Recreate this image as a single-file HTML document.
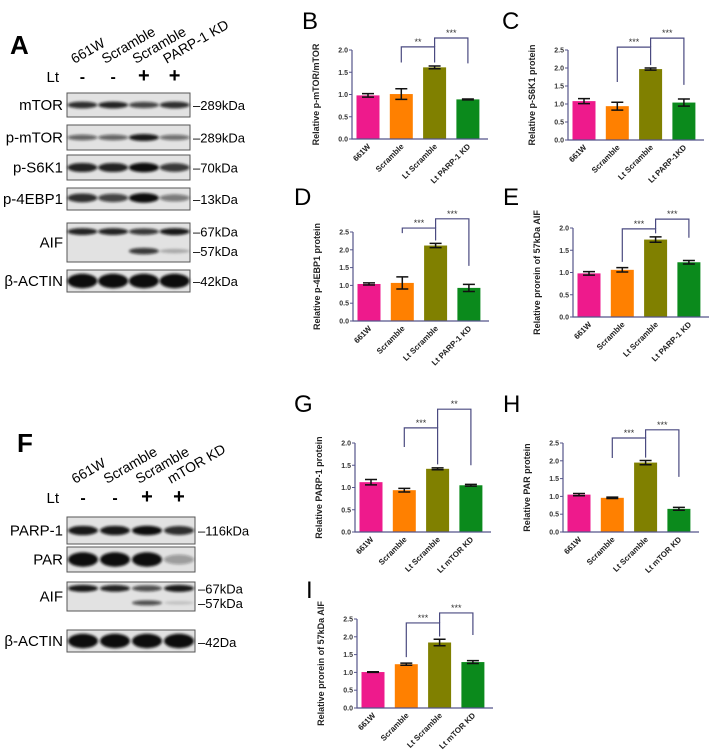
<!DOCTYPE html>
<html><head><meta charset="utf-8"><style>
html,body{margin:0;padding:0;background:#fff;}
svg{display:block;font-family:"Liberation Sans",Arial,sans-serif;}
</style></head><body>
<svg id="fig" width="709" height="755" viewBox="0 0 709 755" xmlns="http://www.w3.org/2000/svg">
<defs>
<filter id="blur" x="-20%" y="-50%" width="140%" height="200%"><feGaussianBlur stdDeviation="1.4"/></filter>
</defs>
<g id="blots"></g>
<g id="charts"></g>
</svg>
<script>
// ---------- chart data ----------
const catsA = ["661W","Scramble","Lt Scramble","Lt PARP-1 KD"];
const catsC = ["661W","Scramble","Lt Scramble","Lt PARP-1KD"];
const catsF = ["661W","Scramble","Lt Scramble","Lt mTOR KD"];
const valsB = [0.98,1.01,1.61,0.89];  const errB = [0.04,0.12,0.03,0.01];
const valsC = [1.08,0.94,1.97,1.04];  const errC = [0.07,0.11,0.03,0.10];
const valsD = [1.04,1.07,2.12,0.93];  const errD = [0.03,0.17,0.06,0.10];
const valsE = [0.98,1.06,1.74,1.23];  const errE = [0.04,0.05,0.06,0.04];
const valsG = [1.12,0.94,1.42,1.05];  const errG = [0.06,0.04,0.02,0.02];
const valsH = [1.05,0.96,1.95,0.65];  const errH = [0.03,0.02,0.06,0.04];
const valsI = [1.01,1.23,1.84,1.29];  const errI = [0.01,0.03,0.09,0.04];
const ticks20 = ["0.0","0.5","1.0","1.5","2.0"];
const ticks25 = ["0.0","0.5","1.0","1.5","2.0","2.5"];
const sigB = [2.07,1.72,2.27,1.70]; const starsB = ["**","***"];
const sigC = [2.58,1.61,2.83,1.53]; const starsC = ["***","***"];
const sigD = [2.61,2.47,2.87,1.55]; const starsD = ["***","***"];
const sigE = [1.98,1.24,2.20,1.78]; const starsE = ["***","***"];
const sigG = [2.34,1.91,2.76,1.50]; const starsG = ["***","**"];
const sigH = [2.64,2.08,2.87,1.55]; const starsH = ["***","***"];
const sigI = [2.39,1.43,2.67,2.05]; const starsI = ["***","***"];

const NS="http://www.w3.org/2000/svg";
const colors=["#ee1a8c","#ff8000","#808000","#0b8a1c"];
function mk(tag,attrs,parent,text){const e=document.createElementNS(NS,tag);for(const k in attrs)e.setAttribute(k,attrs[k]);if(text!==undefined)e.textContent=text;parent.appendChild(e);return e;}

function chart(id,letter,lx,ly,x0,yTop,yBot,cats,vals,errs,ticks,title,sig,stars){
  const root=document.getElementById('charts');
  const g=mk('g',{},root);
  
  
  const L=mk('text',{x:lx,y:ly,'font-size':24},g,letter);
  
  
  const maxV=parseFloat(ticks[ticks.length-1]);
  const y=v=>yBot-(v/maxV)*(yBot-yTop);
  const xc=i=>x0+16+i*33.3;
  vals.forEach((v,i)=>{
    const r=mk('rect',{x:xc(i)-11.5,y:y(v),width:23,height:yBot-y(v),fill:colors[i]},g);
    
    
    const e=errs[i];
    const eg=mk('path',{d:`M${xc(i)-6},${y(v+e)}H${xc(i)+6}M${xc(i)},${y(v+e)}V${y(v-e)}M${xc(i)-6},${y(v-e)}H${xc(i)+6}`,stroke:'#111','stroke-width':1.5,fill:'none'},g);
    
    
  });
  const ax=mk('path',{d:`M${x0},${yTop}V${yBot}H${x0+136}`,stroke:'#55558a','stroke-width':1.2,fill:'none'},g);
  
  
  ticks.forEach(t=>{
    const v=parseFloat(t);
    mk('line',{x1:x0-3,x2:x0,y1:y(v),y2:y(v),stroke:'#55558a','stroke-width':1},g);
    const tl=mk('text',{x:x0-4,y:y(v)+2.5,'font-size':7,'font-weight':'bold','text-anchor':'end',fill:'#333'},g,t);
    
    
  });
  cats.forEach((c,i)=>{
    const cx=xc(i)+3, cy=yBot+8;
    const ct=mk('text',{x:cx,y:cy,'font-size':8,'font-weight':'bold','text-anchor':'end',fill:'#222',transform:`rotate(-45 ${cx} ${cy})`},g,c);
    
    
  });
  const tx=x0-33, ty=(yTop+yBot)/2;
  const yt=mk('text',{x:tx,y:ty,'font-size':9,'font-weight':'bold','text-anchor':'middle',fill:'#222',transform:`rotate(-90 ${tx} ${ty})`},g,title);
  
  
  const r1=vals[2]+errs[2]+0.08;
  const b1=mk('path',{d:`M${xc(1)},${y(sig[1])}V${y(sig[0])}H${xc(2)}V${y(r1)}`,stroke:'#4a4a80','stroke-width':1.2,fill:'none'},g);
  
  
  const b2=mk('path',{d:`M${xc(2)},${y(sig[0])}V${y(sig[2])}H${xc(3)}V${y(sig[3])}`,stroke:'#4a4a80','stroke-width':1.2,fill:'none'},g);
  
  
  const s1=mk('text',{x:(xc(1)+xc(2))/2,y:y(sig[0])-2,'font-size':9,'text-anchor':'middle',fill:'#333'},g,stars[0]);
  
  
  const s2=mk('text',{x:(xc(2)+xc(3))/2,y:y(sig[2])-2,'font-size':9,'text-anchor':'middle',fill:'#333'},g,stars[1]);
  
  
}
chart('b','B',302,29,352,50,139,catsA,valsB,errB,ticks20,'Relative p-mTOR/mTOR',sigB,starsB);
chart('c','C',502,29,568,50,140,catsC,valsC,errC,ticks25,'Relative p-S6K1 protein',sigC,starsC);
chart('d','D',294,205,353,232,321,catsA,valsD,errD,ticks25,'Relative p-4EBP1 protein',sigD,starsD);
chart('e','E',503,205,573,228,317,catsA,valsE,errE,ticks20,'Relative prorein of 57kDa AIF',sigE,starsE);
chart('g','G',294,412,355,443,532,catsF,valsG,errG,ticks20,'Relative PARP-1 protein',sigG,starsG);
chart('h','H',503,412,563,443,532,catsF,valsH,errH,ticks25,'Relative PAR protein',sigH,starsH);
chart('i','I',306,598,357,619,708,catsF,valsI,errI,ticks25,'Relative prorein of 57kDa AIF',sigI,starsI);

// ---------- western blots ----------
const blotRoot=document.getElementById('blots');
function blotPanel(id,letter,lx,ly,bx,bw,laneLabels,ltY,labelY,rows){
  const g=mk('g',{},blotRoot);
  
  
  const L=mk('text',{x:lx,y:ly,'font-size':26,'font-weight':'bold'},g,letter);
  
  
  const lane=i=>bx+bw*(i+0.5)/4;
  laneLabels.forEach((t,i)=>{
    const x=lane(i)-8;
    const tt=mk('text',{x:x,y:labelY,'font-size':14,transform:`rotate(-30 ${x} ${labelY})`},g,t);
    
    
  });
  const lt=mk('text',{x:bx-8,y:ltY,'font-size':15,'text-anchor':'end'},g,'Lt');
  
  
  ['-','-','+','+'].forEach((s,i)=>{
    const p=mk('text',{x:lane(i),y:ltY,'font-size':s==='+'?20:16,'font-weight':'bold','text-anchor':'middle'},g,s);
    
    
  });
  rows.forEach(r=>{
    const rg=mk('g',{},g);
    
    
    mk('rect',{x:bx,y:r.y,width:bw,height:r.h,fill:'#e2e2e2',stroke:'#555','stroke-width':1},rg);
    r.bands.forEach(b=>{
      b.i.forEach((op,i)=>{
        if(op<=0)return;
        mk('ellipse',{cx:lane(i),cy:r.y+r.h*b.f,rx:15,ry:b.t*(0.6+0.6*op),fill:'#111','fill-opacity':op,filter:'url(#blur)'},rg);
      });
    });
    const nt=mk('text',{x:bx-4,y:r.y+r.h/2+5,'font-size':15,'text-anchor':'end'},rg,r.name);
    
    
    r.kda.forEach(k=>{
      const kt=mk('text',{x:bx+bw+3,y:r.y+r.h*k[1]+5,'font-size':13},rg,k[0]);
      
      
    });
  });
}
blotPanel('a','A',10,54,67,123,['661W','Scramble','Scramble','PARP-1 KD'],82,64,[
 {name:'mTOR',y:93,h:24,bands:[{f:0.5,t:3,i:[0.85,0.9,0.75,0.85]}],kda:[['–289kDa',0.5]]},
 {name:'p-mTOR',y:125,h:25,bands:[{f:0.5,t:3,i:[0.6,0.6,0.95,0.55]}],kda:[['–289kDa',0.5]]},
 {name:'p-S6K1',y:155,h:25,bands:[{f:0.5,t:4,i:[0.9,0.9,1,0.8]}],kda:[['–70kDa',0.5]]},
 {name:'p-4EBP1',y:188,h:22,bands:[{f:0.45,t:4,i:[0.85,0.75,1,0.5]}],kda:[['–13kDa',0.5]]},
 {name:'AIF',y:223,h:39,bands:[{f:0.22,t:3,i:[0.9,0.9,0.8,0.95]},{f:0.72,t:3,i:[0,0,0.8,0.25]}],kda:[['–67kDa',0.22],['–57kDa',0.72]]},
 {name:'β-ACTIN',y:270,h:22,bands:[{f:0.5,t:6,i:[1,1,1,1]}],kda:[['–42kDa',0.5]]}
]);
blotPanel('f','F',17,452,67,128,['661W','Scramble','Scramble','mTOR KD'],503,484,[
 {name:'PARP-1',y:517,h:27,bands:[{f:0.5,t:4,i:[0.95,0.95,1,0.85]}],kda:[['–116kDa',0.5]]},
 {name:'PAR',y:547,h:25,bands:[{f:0.5,t:6,i:[1,1,1,0.35]}],kda:[]},
 {name:'AIF',y:582,h:29,bands:[{f:0.22,t:3,i:[0.95,0.9,0.7,0.95]},{f:0.72,t:2.5,i:[0,0,0.7,0.15]}],kda:[['–67kDa',0.22],['–57kDa',0.72]]},
 {name:'β-ACTIN',y:630,h:22,bands:[{f:0.5,t:6,i:[1,1,1,1]}],kda:[['–42Da',0.55]]}
]);
</script>
</body></html>
